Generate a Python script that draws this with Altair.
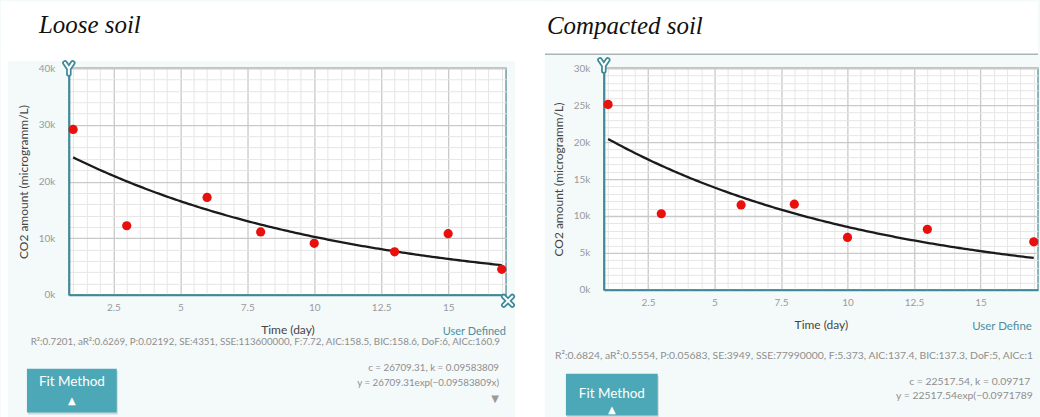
import altair as alt
import pandas as pd

# CO2 measured in the soil air over time (microgram per litre)
days_loose = [1, 3, 6, 8, 10, 13, 15, 17]
co2_loose = [29200, 12200, 17200, 11100, 9100, 7600, 10800, 4500]
days_compact = [1, 3, 6, 8, 10, 13, 17]
co2_compact = [25100, 10300, 11500, 11600, 7100, 8200, 6500]

# Fitted decay model y = c * exp(-k * x)
c_loose, k_loose = 26709.31, 0.09583809
c_compact, k_compact = 22517.54, 0.09717899

stats_loose = ("R²:0.7201, aR²:0.6269, P:0.02192, SE:4351, SSE:113600000, F:7.72, "
               "AIC:158.5, BIC:158.6, DoF:6, AICc:160.9")
stats_compact = ("R²:0.6824, aR²:0.5554, P:0.05683, SE:3949, SSE:77990000, F:5.373, "
                 "AIC:137.4, BIC:137.3, DoF:5, AICc:140.4")

# Axis ticks
x_ticks = [2.5, 5, 7.5, 10, 12.5, 15]
x_fine = [v / 2 for v in range(2, 35) if v % 5]
y_ticks_loose = [0, 10000, 20000, 30000, 40000]
y_fine_loose = [v for v in range(2000, 40000, 2000) if v % 10000]
y_ticks_compact = [0, 5000, 10000, 15000, 20000, 25000, 30000]
y_fine_compact = [v for v in range(1000, 30000, 1000) if v % 5000]

# Colours
PALE = "#f4f9fa"
TEAL = "#3f8a98"
FRAME = "#6c9da6"
BUTTON = "#4ca8b6"
LABEL = "#9a9a9a"
TITLE = "#454545"
STATS = "#8e8e8e"
RED = "#e8100c"
MAJOR = "#c9c9c9"
FINE = "#e6e6e6"
FONT = "Lato"

Y_HANDLE = "M-0.62,-0.85 L0,0.05 L0.62,-0.85 M0,0.05 L0,0.9"
X_HANDLE = "M-0.68,-0.68 L0.68,0.68 M0.68,-0.68 L-0.68,0.68"


def one_row():
    return alt.Chart(alt.InlineData(values=[{"k": 0}]))


class Panel:
    """Collects the decoration layers of one panel, placed in page pixels."""

    def __init__(self, ox, oy):
        self.ox, self.oy = ox, oy
        self.back = []
        self.front = []

    def rect(self, x0, y0, x1, y1, color, front=False):
        layer = one_row().mark_rect(fill=color, opacity=1, strokeWidth=0).encode(
            x=alt.value(x0 - self.ox), x2=alt.value(x1 - self.ox),
            y=alt.value(y0 - self.oy), y2=alt.value(y1 - self.oy))
        (self.front if front else self.back).append(layer)

    def hline(self, x0, x1, y, color, width):
        self.back.append(one_row().mark_rule(color=color, strokeWidth=width).encode(
            x=alt.value(x0 - self.ox), x2=alt.value(x1 - self.ox), y=alt.value(y - self.oy)))

    def text(self, x, y, text, back=False, **kw):
        kw.setdefault("font", FONT)
        layer = one_row().mark_text(text=text, **kw).encode(
            x=alt.value(x - self.ox), y=alt.value(y - self.oy))
        (self.back if back else self.front).append(layer)

    def handle(self, x, y, path):
        for stroke, width in ((TEAL, 5.5), ("white", 2)):
            self.front.append(one_row().mark_point(
                shape=path, size=160, filled=False, stroke=stroke, strokeWidth=width,
                strokeCap="round", strokeJoin="round", opacity=1).encode(
                x=alt.value(x - self.ox), y=alt.value(y - self.oy)))

    def button(self, x0, y0, x1, y1, text_y, arrow_y):
        cx = (x0 + x1) / 2
        self.rect(x0 + 1, y0 + 2, x1 + 1, y1 + 2, "#cfd9dc", front=True)
        self.rect(x0, y0, x1, y1, BUTTON, front=True)
        self.text(cx, text_y, "Fit Method", color="white", fontSize=13.5,
                  align="center", baseline="middle")
        self.text(cx, arrow_y, "▲", color="white", fontSize=10,
                  align="center", baseline="middle", font="DejaVu Sans")


def plot(days, co2, c, k, y_max, y_ticks, y_fine, W, H, deco):
    xs = alt.Scale(domain=[0.84, 17.16], nice=False, zero=False)
    ys = alt.Scale(domain=[0, y_max], nice=False, zero=True)
    df = pd.DataFrame({"day": days, "co2": co2})

    fine = alt.Chart(df).mark_point(opacity=0).encode(
        x=alt.X("day:Q", scale=xs, axis=alt.Axis(
            orient="top", values=x_fine, grid=True, gridColor=FINE, gridWidth=1,
            labels=False, ticks=False, domain=False, title=None)),
        y=alt.Y("co2:Q", scale=ys, axis=alt.Axis(
            orient="right", values=y_fine, grid=True, gridColor=FINE, gridWidth=1,
            labels=False, ticks=False, domain=False, title=None)),
    )

    curve = (
        alt.Chart(alt.sequence(1, 17.05, 0.1, as_="day"))
        .transform_calculate(co2=f"{c} * exp(-{k} * datum.day)")
        .mark_line(color="#1b1b1b", strokeWidth=2.3)
        .encode(x=alt.X("day:Q", scale=xs, axis=None),
                y=alt.Y("co2:Q", scale=ys, axis=None))
    )

    dots = alt.Chart(df).mark_circle(size=85, color=RED, opacity=1).encode(
        x=alt.X("day:Q", scale=xs, axis=alt.Axis(
            values=x_ticks, labelExpr="datum.value + ''", grid=True,
            gridColor=MAJOR, gridWidth=1.3,
            ticks=False, domainColor=TEAL, domainWidth=2, labelPadding=8,
            title="Time (day)", titleX=W / 2, titleY=35, titleAlign="center",
            titleBaseline="middle")),
        y=alt.Y("co2:Q", scale=ys, axis=alt.Axis(
            values=y_ticks, labelExpr="datum.value / 1000 + 'k'", grid=True,
            gridColor=MAJOR, gridWidth=1.3, ticks=False, domainColor=TEAL,
            domainWidth=2, labelPadding=14,
            title="CO2 amount (microgramm/L)", titleX=-45, titleY=H / 2,
            titleAngle=270, titleAlign="center", titleBaseline="middle")),
    )

    return (
        alt.layer(*deco.back, fine, curve, dots, *deco.front)
        .resolve_axis(x="independent", y="independent")
        .properties(width=W, height=H)
    )


# ---- Loose soil ----------------------------------------------------------
WL, HL = 438, 227
left = Panel(68, 67)
left.rect(0, 0, 545, 60, "white")
left.rect(0, 0, 7, 417, "white")
left.rect(515, 0, 545, 417, "white")
left.text(38, 31.5, "Loose soil", back=True, font="Liberation Serif",
          fontStyle="italic", fontSize=25, color="#111111", align="left",
          baseline="alphabetic")
left.text(506, 331.5, "User Defined", color="#4e8ea0", fontSize=11,
          align="right", baseline="middle")
left.text(500, 341.7, stats_loose, color=STATS, fontSize=9.8, align="right",
          baseline="middle")
left.text(499, 367.3, f"c = {c_loose}, k = {k_loose}", color=STATS,
          fontSize=9.8, align="right", baseline="middle")
left.text(499, 382.3, f"y = {c_loose}exp(\u2212{k_loose}x)", color=STATS,
          fontSize=9.8, align="right", baseline="middle")
left.text(495, 398, "▼", color="#9a9a9a", fontSize=10, align="center",
          baseline="middle", font="DejaVu Sans")
left.button(26, 368, 116, 412, 381.7, 400.7)
left.handle(68, 67, Y_HANDLE)
left.handle(508, 300, X_HANDLE)

chart_left = plot(days_loose, co2_loose, c_loose, k_loose, 40000,
                  y_ticks_loose, y_fine_loose, WL, HL, left)

# ---- Compacted soil (runs off the right edge of the page) ----------------
WR, HR = 435, 222
EDGE = 1039
right = Panel(604, 67)
right.rect(545, 0, EDGE, 53, "white")
right.hline(545, EDGE, 53, "#a9b4b6", 1.5)
right.text(547, 33, "Compacted soil", back=True, font="Liberation Serif",
           fontStyle="italic", fontSize=25, color="#111111", align="left",
           baseline="alphabetic")
right.text(973, 326, "User Defined", color="#4e8ea0", fontSize=11.5,
           align="left", baseline="middle", limit=EDGE - 973, ellipsis=" ")
right.text(555, 355, stats_compact, color=STATS, fontSize=10.4, align="left",
           baseline="middle", limit=EDGE - 555, ellipsis=" ")
right.text(910, 381.7, f"c = {c_compact}, k = {k_compact}", color=STATS,
           fontSize=10.4, align="left", baseline="middle", limit=EDGE - 910,
           ellipsis=" ")
right.text(896.7, 395, f"y = {c_compact}exp(\u2212{k_compact}x)", color=STATS,
           fontSize=10.4, align="left", baseline="middle", limit=EDGE - 896.7,
           ellipsis=" ")
right.button(566, 373, 658, 415, 393, 409)
right.handle(604, 64, Y_HANDLE)

chart_right = plot(days_compact, co2_compact, c_compact, k_compact, 30000,
                   y_ticks_compact, y_fine_compact, WR, HR, right)

chart = (
    alt.hconcat(chart_left, chart_right, spacing=98, bounds="flush")
    .properties(padding=0, background=PALE)
    .configure_view(fill="white", stroke=FRAME, strokeWidth=1.5)
    .configure_axis(labelFont=FONT, labelFontSize=10, labelColor=LABEL,
                    titleFont=FONT, titleFontSize=12, titleFontWeight="normal",
                    titleColor=TITLE)
)

chart.save("out.html", embed_options={"renderer": "svg", "actions": False})
